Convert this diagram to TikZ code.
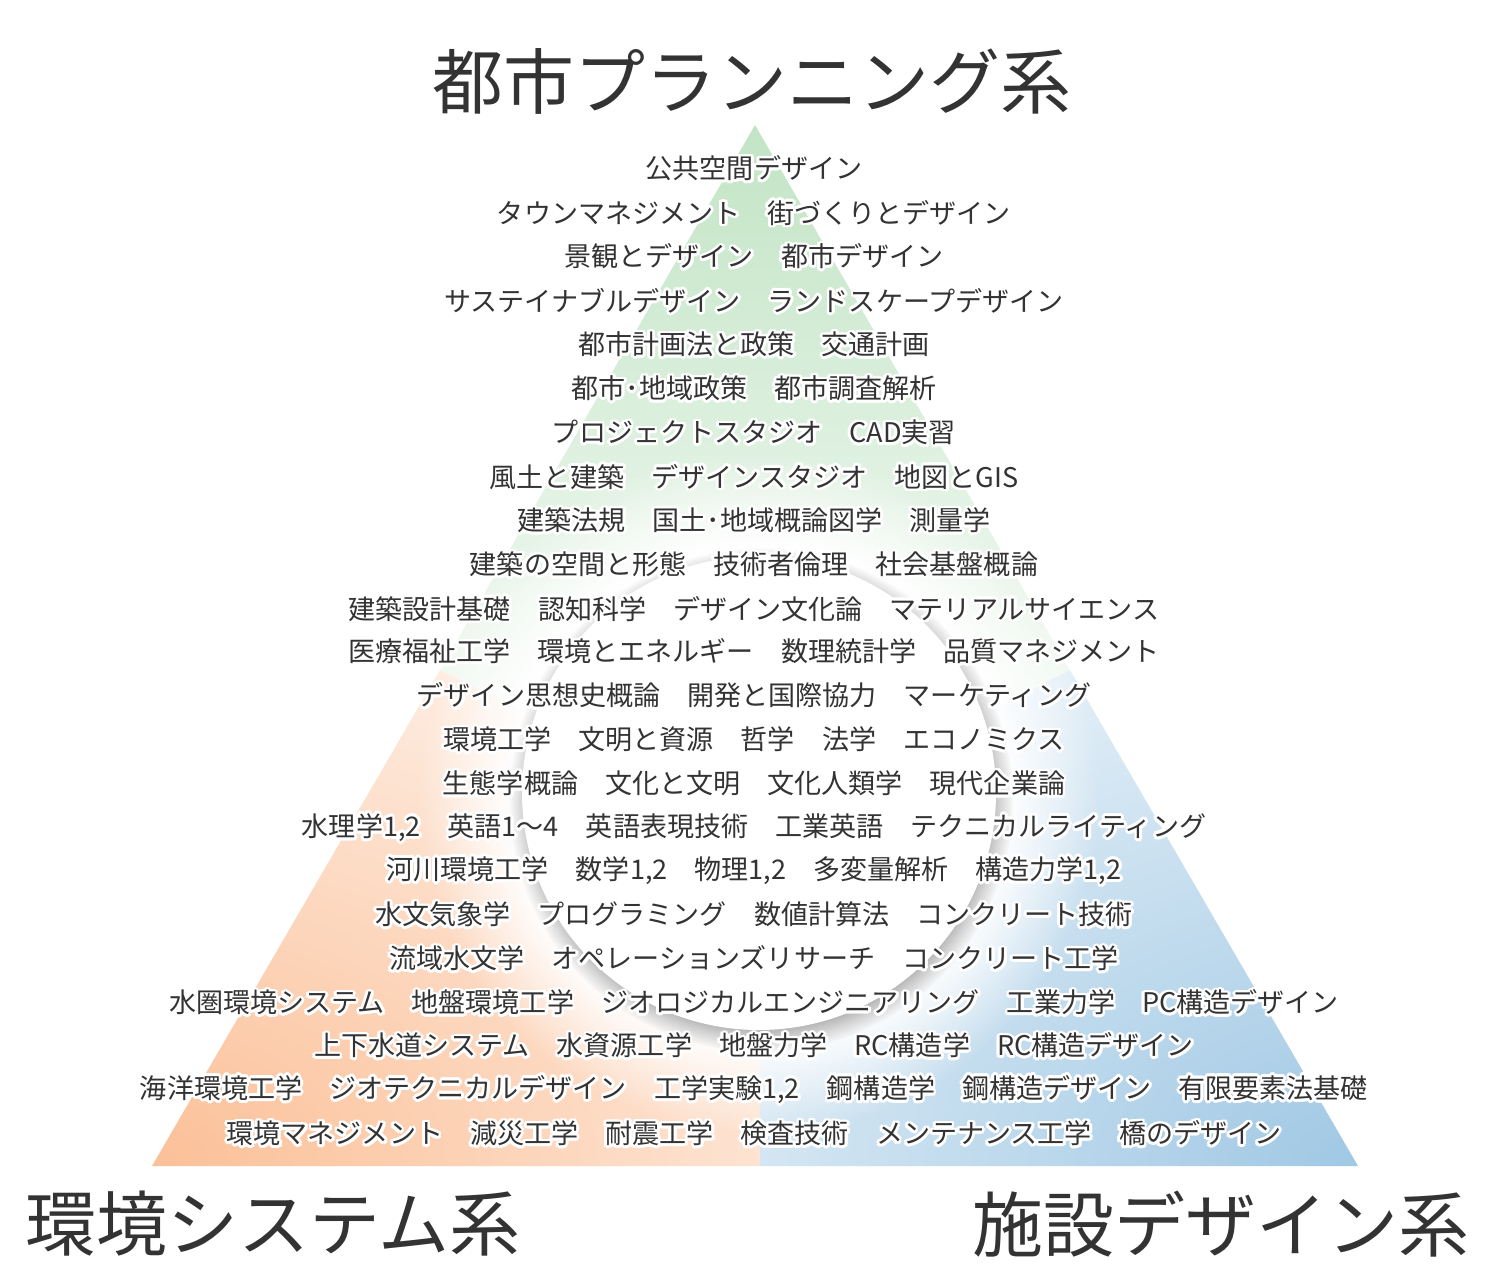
\documentclass[tikz,border=0pt]{standalone}
\usepackage{fontspec}
\usepackage{xcolor}
\usepackage{contour}
\usetikzlibrary{fadings}
\newfontfamily\jpfont{Noto Sans CJK JP}
\contourlength{1.6pt}

\definecolor{grn}{RGB}{194,228,197}
\definecolor{org}{RGB}{251,192,152}
\definecolor{blu}{RGB}{160,200,228}
\definecolor{ink}{RGB}{51,51,51}

\pgfdeclareradialshading{hubshade}{\pgfpointorigin}{color(0bp)=(pgftransparent!0); color(18bp)=(pgftransparent!0); color(25bp)=(pgftransparent!100); color(50bp)=(pgftransparent!100)}
\pgfdeclarefading{hubfade}{\pgfuseshading{hubshade}}

\tikzset{
  course/.style={font=\jpfont\fontsize{15.4}{18}\selectfont, text=ink, inner sep=0pt},
  group/.style={font=\jpfont\fontsize{40.4}{48}\selectfont, text=ink, inner sep=0pt},
}

\begin{document}
\begin{tikzpicture}[x=0.02cm, y=-0.02cm]

  \useasboundingbox (0,0) rectangle (1500,1280);

  \coordinate (apex) at (755,125);
  \coordinate (bl) at (152,1166);
  \coordinate (br) at (1358,1166);
  \coordinate (bm) at (760,1166);
  \coordinate (ml) at (440,670);
  \coordinate (mr) at (1070,670);
  \coordinate (mid) at (760,830);
  \coordinate (hub) at (759,793);
  \coordinate (hubshadow) at (761,800);

  % three fields of the triangle
  \shade[top color=grn, middle color=grn, bottom color=white] (apex) -- (ml) -- (mid) -- (mr) -- cycle;
  \begin{scope}
    \clip (ml) -- (bl) -- (bm) -- (mid) -- cycle;
    \shade[inner color=org, outer color=white] (bl) ellipse [x radius=22cm, y radius=15.2cm];
  \end{scope}
  \begin{scope}
    \clip (mr) -- (br) -- (bm) -- (mid) -- cycle;
    \shade[inner color=blu, outer color=white] (br) ellipse [x radius=22cm, y radius=15.2cm];
  \end{scope}

  % white centre with its shadow
  \fill[white, path fading=hubfade] (hub) circle (340);
  \fill[black!45, path fading=circle with fuzzy edge 15 percent] (hubshadow) circle (252);
  \fill[white] (hub) circle (237);

  \node[group] (plan) at (752,81) {都市プランニング系};
  \node[group, anchor=west] (envsys) at (25,1224) {環境システム系};
  \node[group, anchor=east] (facil) at (1470,1224) {施設デザイン系};

  \node[course] (row1) at (754,170) {\contour{white}{公共空間デザイン}};
  \node[course] (row2) at (754,214) {\contour{white}{タウンマネジメント　街づくりとデザイン}};
  \node[course] (row3) at (754,258) {\contour{white}{景観とデザイン　都市デザイン}};
  \node[course] (row4) at (754,302) {\contour{white}{サステイナブルデザイン　ランドスケープデザイン}};
  \node[course] (row5) at (754,346) {\contour{white}{都市計画法と政策　交通計画}};
  \node[course] (row6) at (754,390) {\contour{white}{都市･地域政策　都市調査解析}};
  \node[course] (row7) at (754,434) {\contour{white}{プロジェクトスタジオ　CAD実習}};
  \node[course] (row8) at (754,478) {\contour{white}{風土と建築　デザインスタジオ　地図とGIS}};
  \node[course] (row9) at (754,522) {\contour{white}{建築法規　国土･地域概論図学　測量学}};
  \node[course] (row10) at (754,566) {\contour{white}{建築の空間と形態　技術者倫理　社会基盤概論}};
  \node[course] (row11) at (754,610) {\contour{white}{建築設計基礎　認知科学　デザイン文化論　マテリアルサイエンス}};
  \node[course] (row12) at (754,653) {\contour{white}{医療福祉工学　環境とエネルギー　数理統計学　品質マネジメント}};
  \node[course] (row13) at (754,697) {\contour{white}{デザイン思想史概論　開発と国際協力　マーケティング}};
  \node[course] (row14) at (754,741) {\contour{white}{環境工学　文明と資源　哲学　法学　エコノミクス}};
  \node[course] (row15) at (754,785) {\contour{white}{生態学概論　文化と文明　文化人類学　現代企業論}};
  \node[course] (row16) at (754,829) {\contour{white}{水理学1,2　英語1～4　英語表現技術　工業英語　テクニカルライティング}};
  \node[course] (row17) at (754,872) {\contour{white}{河川環境工学　数学1,2　物理1,2　多変量解析　構造力学1,2}};
  \node[course] (row18) at (754,916) {\contour{white}{水文気象学　プログラミング　数値計算法　コンクリート技術}};
  \node[course] (row19) at (754,960) {\contour{white}{流域水文学　オペレーションズリサーチ　コンクリート工学}};
  \node[course] (row20) at (754,1004) {\contour{white}{水圏環境システム　地盤環境工学　ジオロジカルエンジニアリング　工業力学　PC構造デザイン}};
  \node[course] (row21) at (754,1047) {\contour{white}{上下水道システム　水資源工学　地盤力学　RC構造学　RC構造デザイン}};
  \node[course] (row22) at (754,1091) {\contour{white}{海洋環境工学　ジオテクニカルデザイン　工学実験1,2　鋼構造学　鋼構造デザイン　有限要素法基礎}};
  \node[course] (row23) at (754,1135) {\contour{white}{環境マネジメント　減災工学　耐震工学　検査技術　メンテナンス工学　橋のデザイン}};

\end{tikzpicture}
\end{document}
